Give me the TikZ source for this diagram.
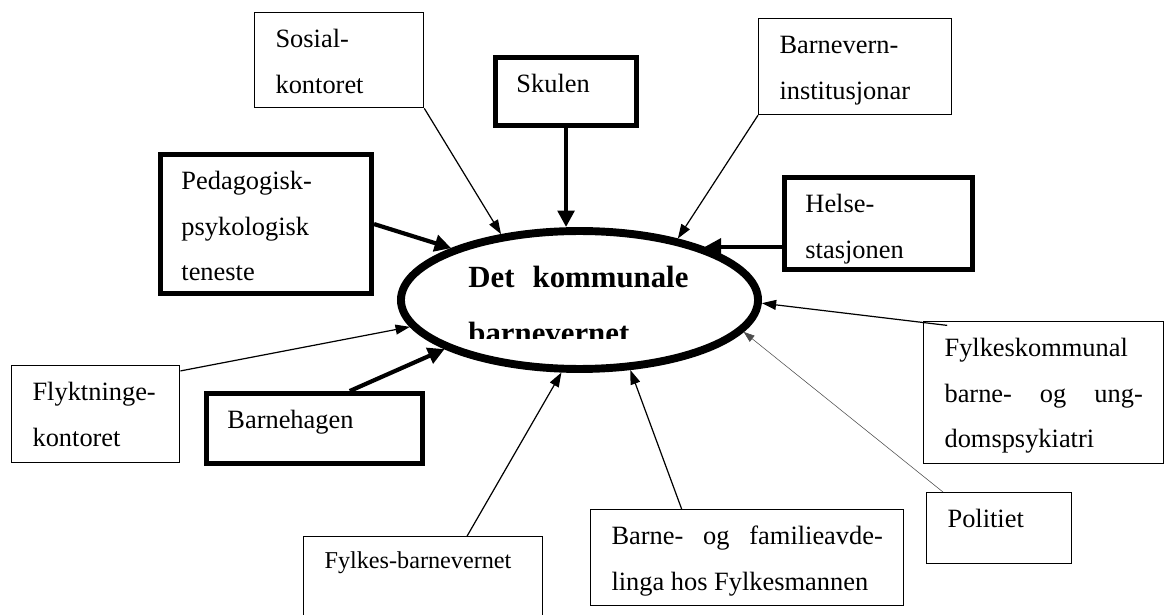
\documentclass[tikz,border=0pt]{standalone}
\usepackage{fontspec}
\setmainfont{Liberation Serif}
\usetikzlibrary{shapes.geometric, arrows.meta}

\begin{document}
\begin{tikzpicture}[x=0.4545pt, y=-0.4545pt,
  thinbox/.style={draw, line width=0.6pt, anchor=north west, align=left,
    inner xsep=9.5pt, inner ysep=0pt, text height=15.9pt,
    font=\fontsize{12}{20.7}\selectfont},
  thickbox/.style={thinbox, line width=2.3pt},
  thinarrow/.style={-{Triangle[length=6.5pt,width=4.5pt]}, line width=0.55pt},
  thickarrow/.style={-{Triangle[length=7.5pt,width=7.5pt]}, line width=1.9pt},
  hairarrow/.style={-{Triangle[length=5pt,width=3.5pt]}, line width=0.25pt, draw=black!70}]

\useasboundingbox (0,0) rectangle (1164,615);

% the centre
\node[draw, ellipse, line width=3.6pt, minimum width=162.3pt, minimum height=62.7pt, inner sep=0pt] (bv) at (579.5,300) {};
\begin{scope}
\clip (400,240) rectangle (760,339);
\node[anchor=base west, inner sep=0pt, text width=100pt, align=justify,
  font=\fontsize{14}{25}\selectfont\bfseries] (bvtext) at (468,288) {Det kommunale\linebreak barnevernet};
\end{scope}

% boxes round it
\node[thinbox, text width=57.8pt, text depth=27.3pt] (sosial) at (254,12) {Sosial-\\kontoret};
\node[thickbox, text width=45.1pt, text depth=15.0pt] (skulen) at (493,55) {Skulen};
\node[thinbox, text width=68.7pt, text depth=27.7pt] (institusjon) at (758,18) {Barnevern-\\institusjonar};
\node[thickbox, text width=76.9pt, text depth=47.3pt] (ppt) at (158,152) {Pedagogisk-\\psykologisk\\teneste};
\node[thickbox, text width=66.4pt, text depth=25.9pt] (helse) at (782,175) {Helse-\\stasjonen};
\node[thinbox, text width=57.4pt, text depth=28.2pt] (flykt) at (11,365) {Flyktninge-\\kontoret};
\node[thickbox, text width=79.2pt, text depth=15.9pt] (hage) at (204,391) {Barnehagen};
\node[thinbox, text width=89.6pt, text height=14.5pt, text depth=26pt,
  font=\fontsize{11}{13}\selectfont] (fylkesbv) at (303,536) {Fylkes-barnevernet};
\node[thinbox, align=justify, text width=123.3pt, text depth=27.7pt] (fylkesmann) at (590,509) {Barne- og familieavde-\linebreak linga hos Fylkesmannen};
\node[thinbox, align=justify, text width=90.1pt, text depth=48.6pt] (bup) at (923,321) {Fylkeskommunal\\barne- og ung-\linebreak domspsykiatri};
\node[thinbox, text width=46.9pt, text depth=16.4pt] (politi) at (926,492) {Politiet};

% arrows
\draw[thinarrow] (sosial.south east) -- (bv.140);
\draw[thickarrow] (skulen.south) -- (skulen.south |- bv.north);
\draw[thinarrow] (institusjon.south west) -- (bv.32);
\draw[thickarrow] (ppt.east) -- (bv.158);
\draw[thickarrow] (bv.23 -| helse.west) -- (bv.23);
\draw[thinarrow] ([yshift=-2.7pt]flykt.north east) -- (bv.189);
\draw[thickarrow] ([xshift=16pt]hage.north) -- (bv.200);
\draw[thinarrow] ([xshift=20pt]fylkesbv.north) -- (bv.256);
\draw[thinarrow] ([xshift=-29.8pt]fylkesmann.north) -- (bv.306);
\draw[thinarrow] ([xshift=11pt,yshift=-2pt]bup.north west) -- (bv.359);
\draw[hairarrow] ([xshift=7.7pt]politi.north west) -- (bv.349);

\end{tikzpicture}
\end{document}
